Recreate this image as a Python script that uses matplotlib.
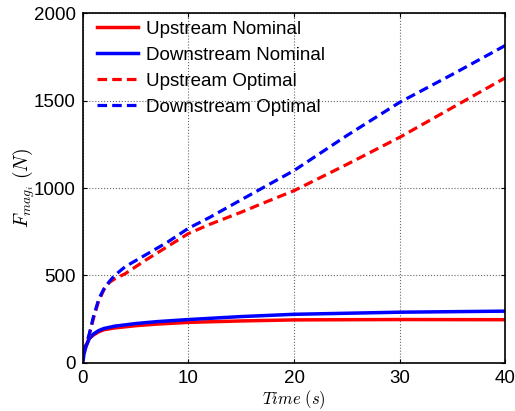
import matplotlib
matplotlib.use("Agg")
import matplotlib.pyplot as plt

plt.rcParams['font.family'] = ['Liberation Sans', 'DejaVu Sans']
plt.rcParams['mathtext.fontset'] = 'cm'

# time samples (s)
t_opt = [0, 0.1, 0.3, 0.6, 1, 1.5, 2, 2.5, 3, 4, 5, 6, 8, 10, 12, 15, 17, 20, 25, 30, 35, 40]
up_opt = [60, 65, 100, 160, 255, 355, 420, 460, 480, 510, 550, 590, 665, 740, 792, 862, 912, 985, 1135, 1290, 1460, 1630]
down_opt = [60, 65, 100, 165, 265, 365, 425, 465, 500, 550, 585, 620, 690, 770, 832, 933, 1000, 1100, 1300, 1490, 1650, 1815]

t_nom = [0, 0.1, 0.3, 0.6, 1, 1.5, 2, 3, 5, 7, 10, 15, 20, 30, 40]
up_nom = [70, 75, 100, 140, 160, 178, 190, 200, 213, 222, 232, 240, 246, 248, 247]
down_nom = [5, 50, 95, 140, 165, 185, 197, 210, 225, 236, 248, 265, 278, 290, 296]

fig = plt.figure(figsize=(5.15, 4.11), dpi=100)
ax = fig.add_axes([0.161, 0.117, 0.820, 0.851])

ax.plot(t_nom, up_nom, color='red', lw=2.5, label='Upstream Nominal')
ax.plot(t_nom, down_nom, color='blue', lw=2.5, label='Downstream Nominal')
ax.plot(t_opt, up_opt, color='red', lw=2.3, dashes=(3.0, 1.6), label='Upstream Optimal')
ax.plot(t_opt, down_opt, color='blue', lw=2.3, dashes=(3.0, 1.6), label='Downstream Optimal')

ax.set_xlim(0, 40)
ax.set_ylim(0, 2000)
ax.set_xticks([0, 10, 20, 30, 40])
ax.set_yticks([0, 500, 1000, 1500, 2000])
ax.tick_params(direction='in', labelsize=13.5, length=3, pad=5, top=True, right=True)
ax.grid(True, linestyle=':', color='#666666', linewidth=0.8)
for s in ax.spines.values():
    s.set_linewidth(1.2)

ax.set_xlabel(r'$Time\ (s)$', fontsize=12, labelpad=1)
ax.set_ylabel(r'$F_{mag_i}\ (N)$', fontsize=14, labelpad=-2)

ax.legend(loc='upper left', bbox_to_anchor=(0.025, 0.99), frameon=False,
          fontsize=13.5, handlelength=2.2, labelspacing=0.48, borderaxespad=0.0,
          borderpad=0.2, handletextpad=0.4)

fig.savefig('out.png', dpi=100)
